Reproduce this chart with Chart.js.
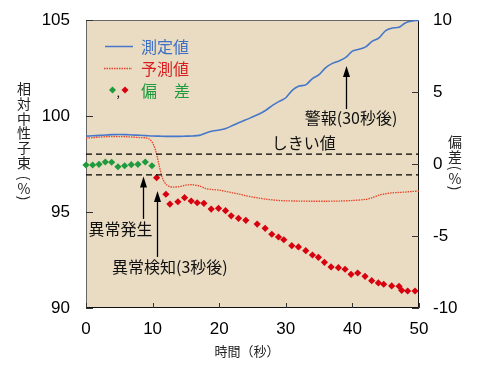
<!DOCTYPE html>
<html><head><meta charset="utf-8">
<script src="https://cdn.jsdelivr.net/npm/chart.js@4"></script>
<style>html,body{margin:0;padding:0;background:#fff;}#wrap{width:482px;height:369px;}</style>
</head><body><div id="wrap"><canvas id="c" width="482" height="369"></canvas></div>
<script>
// ---- data ----
const xTicks = [0, 10, 20, 30, 40, 50];
const yLeftTicks = [90, 95, 100, 105];
const yRightTicks = [-10, -5, 0, 5, 10];

const measuredTime = [0,1,2,3,4,5,6,7,8,9,10,11,12,13,14,15,16,17,18,19,20,21,22,23,24,25,26,27,28,29,30,31,32,33,34,35,36,37,38,39,40,41,42,43,44,45,46,47,48,49,50];
const measuredValue = [98.95,98.97,98.99,99.01,99.03,99.04,99.03,99.01,99.0,98.98,98.96,98.95,98.94,98.94,98.94,98.95,98.96,98.99,99.12,99.22,99.27,99.35,99.5,99.66,99.8,99.95,100.1,100.3,100.55,100.76,100.95,101.35,101.56,101.62,101.95,102.15,102.52,102.74,102.87,103.05,103.38,103.48,103.6,103.9,104.07,104.45,104.58,104.62,104.86,104.95,104.98];

const predictedTime = [0,1,2,3,4,5,6,7,8,9,9.5,10,10.5,11,11.5,12,12.5,13,14,15,16,17,18,19,20,21,22,23,24,25,26,27,28,29,30,32,34,36,38,40,42,43,44,45,46,47,48,49,50];
const predictedValue = [98.85,98.87,98.9,98.92,98.93,98.93,98.92,98.9,98.88,98.86,98.8,98.6,98.15,97.4,96.75,96.45,96.33,96.3,96.32,96.4,96.42,96.36,96.22,96.17,96.14,96.07,96.0,95.93,95.85,95.78,95.72,95.67,95.63,95.6,95.58,95.57,95.56,95.56,95.57,95.6,95.66,95.75,95.88,95.95,96.0,96.02,96.04,96.07,96.09];

const devNormalTime = [0,1,1.95,2.9,3.85,4.8,5.8,6.8,7.8,8.9,9.9];
const devNormalValue = [-0.07,-0.07,-0.02,0.14,0.12,-0.19,-0.12,-0.05,-0.02,0.14,-0.12];

const devAbnormalTime = [10.6,12.0,12.6,13.8,14.8,15.8,16.7,17.7,18.8,19.9,20.95,21.8,22.9,24.0,25.7,26.9,27.9,28.9,29.7,30.9,31.9,33.0,34.0,34.9,35.8,36.8,37.9,38.9,39.8,40.8,41.9,42.9,43.9,44.7,45.9,47.0,47.4,48.3,49.4];
const devAbnormalValue = [-0.95,-2.1,-2.78,-2.62,-2.34,-2.57,-2.69,-2.73,-3.13,-3.08,-3.24,-3.6,-3.77,-3.91,-4.17,-4.47,-4.88,-5.07,-5.26,-5.67,-5.76,-6.02,-6.32,-6.48,-6.83,-7.15,-7.2,-7.31,-7.66,-7.57,-7.8,-8.1,-8.26,-8.35,-8.47,-8.49,-8.77,-8.82,-8.82];

const thresholds = [0.68, -0.75];
const thresholdSpan = [0, 50];

// annotations (x in seconds, y in left-axis units)
const arrowNotes = [
  { x: 8.6, tail: 94.64, tip: 96.85 },
  { x: 10.7, tail: 92.66, tip: 96.09 },
  { x: 39.04, tail: 100.36, tip: 102.6 }
];
const textNotes = [
  { text: '異常発生', x: 5.18, y: 94.11, align: 'center' },
  { text: '異常検知(3秒後)', x: 12.6, y: 92.14, align: 'center' },
  { text: '警報(30秒後)', x: 39.8, y: 99.9, align: 'center' },
  { text: 'しきい値', x: 27.9, y: 98.6, align: 'left' }
];

// ---- colours ----
const BLUE = '#4677c9', REDLINE = '#e8442a', GREEN = '#1f9a3c', RED = '#d8000f', BG = '#e9dcc3';
const JP = '"Noto Sans CJK JP", "Noto Sans", sans-serif';

const zip = (xs, ys) => xs.map((x, i) => ({ x, y: ys[i] }));

function diamond(ctx, x, y, r, color) {
  ctx.beginPath();
  ctx.moveTo(x, y - r); ctx.lineTo(x + r, y); ctx.lineTo(x, y + r); ctx.lineTo(x - r, y); ctx.closePath();
  ctx.fillStyle = color; ctx.fill();
}

const overlay = {
  id: 'overlay',
  beforeDraw(chart) {
    const { ctx, chartArea: a } = chart;
    ctx.save();
    ctx.fillStyle = '#fff'; ctx.fillRect(0, 0, chart.width, chart.height);
    ctx.fillStyle = BG; ctx.fillRect(a.left, a.top, a.right - a.left, a.bottom - a.top);
    ctx.restore();
  },
  beforeDatasetsDraw(chart) {
    const { ctx, chartArea: a, scales } = chart;
    ctx.save();
    ctx.lineWidth = 1;
    ctx.strokeStyle = '#666';
    ctx.beginPath();
    ctx.moveTo(a.left + 0.5, a.bottom); ctx.lineTo(a.left + 0.5, a.top + 0.5); ctx.lineTo(a.right, a.top + 0.5);
    ctx.stroke();
    ctx.strokeStyle = '#111';
    ctx.beginPath();
    ctx.moveTo(a.right - 0.5, a.top); ctx.lineTo(a.right - 0.5, a.bottom - 0.5); ctx.lineTo(a.left, a.bottom - 0.5);
    ctx.stroke();
    ctx.strokeStyle = '#333';
    ctx.beginPath();
    yLeftTicks.forEach(v => { const p = Math.round(scales.y.getPixelForValue(v)) + 0.5; ctx.moveTo(a.left, p); ctx.lineTo(a.left + 7, p); });
    yRightTicks.forEach(v => { const p = Math.round(scales.y2.getPixelForValue(v)) + 0.5; ctx.moveTo(a.right - 7, p); ctx.lineTo(a.right, p); });
    xTicks.forEach(v => { const p = Math.round(scales.x.getPixelForValue(v)) + 0.5; ctx.moveTo(p, a.bottom); ctx.lineTo(p, a.bottom - 5); });
    ctx.stroke();
    ctx.restore();
  },
  afterDatasetsDraw(chart) {
    const { ctx, scales } = chart;
    const X = v => scales.x.getPixelForValue(v), Y = v => scales.y.getPixelForValue(v);
    ctx.save();
    // arrows
    ctx.strokeStyle = '#000'; ctx.fillStyle = '#000'; ctx.lineWidth = 1.3;
    arrowNotes.forEach(n => {
      const x = Math.round(X(n.x)) + 0.5, yt = Y(n.tail), yp = Y(n.tip);
      ctx.beginPath(); ctx.moveTo(x, yt); ctx.lineTo(x, yp + 8); ctx.stroke();
      ctx.beginPath(); ctx.moveTo(x, yp); ctx.lineTo(x - 3.5, yp + 11); ctx.lineTo(x + 3.5, yp + 11); ctx.closePath(); ctx.fill();
    });
    // notes
    ctx.font = '16px ' + JP; ctx.textBaseline = 'middle'; ctx.fillStyle = '#111';
    textNotes.forEach(n => { ctx.textAlign = n.align; ctx.fillText(n.text, X(n.x), Y(n.y)); });
    // legend
    ctx.textAlign = 'left';
    ctx.strokeStyle = BLUE; ctx.lineWidth = 1.5; ctx.setLineDash([]);
    ctx.beginPath(); ctx.moveTo(105, 46.5); ctx.lineTo(133, 46.5); ctx.stroke();
    ctx.fillStyle = '#3d6fc4'; ctx.fillText('測定値', 141, 47);
    ctx.strokeStyle = REDLINE; ctx.lineWidth = 1.3; ctx.setLineDash([1.5, 1]);
    ctx.beginPath(); ctx.moveTo(104, 68.5); ctx.lineTo(132, 68.5); ctx.stroke();
    ctx.setLineDash([]);
    ctx.fillStyle = '#d81e1e'; ctx.fillText('予測値', 141, 69);
    diamond(ctx, 112.5, 90, 3.5, GREEN);
    ctx.fillStyle = '#111'; ctx.font = '12px ' + JP; ctx.fillText(',', 116.5, 92);
    diamond(ctx, 125, 90, 3.5, RED);
    ctx.font = '16px ' + JP; ctx.fillStyle = GREEN;
    ctx.fillText('偏', 141, 91); ctx.fillText('差', 174, 91);
    // axis titles
    ctx.fillStyle = '#222'; ctx.textAlign = 'center'; ctx.font = '14px ' + JP;
    const stack = (chars, x, y0, step) => chars.forEach((c, i) => ctx.fillText(c, x, y0 + i * step));
    const parenStack = (x, yTop) => {
      ctx.save(); ctx.translate(x, yTop); ctx.rotate(Math.PI / 2); ctx.fillText('(', 0, 0); ctx.restore();
      ctx.fillText('%', x, yTop + 11);
      ctx.save(); ctx.translate(x, yTop + 20); ctx.rotate(Math.PI / 2); ctx.fillText(')', 0, 0); ctx.restore();
    };
    stack(['相', '対', '中', '性', '子', '束'], 24, 89, 14.7);
    parenStack(24, 178);
    stack(['偏', '差'], 455, 141.5, 15);
    parenStack(455, 168);
    ctx.font = '13px ' + JP;
    ctx.fillText('時間（秒）', 247, 351);
    ctx.restore();
  }
};

const tickFont = { family: '"Liberation Sans", Arial, sans-serif', size: 17 };

new Chart(document.getElementById('c'), {
  type: 'scatter',
  data: {
    datasets: [
      { label: 'thrHi', data: zip(thresholdSpan, thresholdSpan.map(() => thresholds[0])), yAxisID: 'y2', showLine: true, borderColor: '#000', borderWidth: 1.2, borderDash: [6, 4], pointRadius: 0 },
      { label: 'thrLo', data: zip(thresholdSpan, thresholdSpan.map(() => thresholds[1])), yAxisID: 'y2', showLine: true, borderColor: '#000', borderWidth: 1.2, borderDash: [6, 4], pointRadius: 0 },
      { label: '測定値', data: zip(measuredTime, measuredValue), yAxisID: 'y', showLine: true, borderColor: BLUE, borderWidth: 1.6, pointRadius: 0, tension: 0.3 },
      { label: '予測値', data: zip(predictedTime, predictedValue), yAxisID: 'y', showLine: true, borderColor: REDLINE, borderWidth: 1.3, borderDash: [1.5, 1], pointRadius: 0, tension: 0.3 },
      { label: '偏差(正常)', data: zip(devNormalTime, devNormalValue), yAxisID: 'y2', pointStyle: 'rectRot', pointRadius: 3.6, backgroundColor: GREEN, borderWidth: 0, clip: false },
      { label: '偏差(異常)', data: zip(devAbnormalTime, devAbnormalValue), yAxisID: 'y2', pointStyle: 'rectRot', pointRadius: 3.6, backgroundColor: RED, borderWidth: 0, clip: false }
    ]
  },
  options: {
    responsive: false, devicePixelRatio: 1, animation: false,
    layout: { padding: { top: 20, left: 0, right: 0, bottom: 0 } },
    plugins: { legend: { display: false }, tooltip: { enabled: false } },
    scales: {
      x: {
        type: 'linear', min: 0, max: 50,
        afterBuildTicks: s => { s.ticks = xTicks.map(v => ({ value: v })); },
        afterFit: s => { s.height = 61; },
        grid: { display: false }, border: { display: false },
        ticks: { font: tickFont, color: '#000', padding: 3, autoSkip: false, maxRotation: 0 }
      },
      y: {
        position: 'left', min: 90, max: 105,
        afterBuildTicks: s => { s.ticks = yLeftTicks.map(v => ({ value: v })); },
        afterFit: s => { s.width = 86; },
        grid: { display: false }, border: { display: false },
        ticks: { font: tickFont, color: '#000', padding: 8, autoSkip: false }
      },
      y2: {
        position: 'right', min: -10, max: 10,
        afterBuildTicks: s => { s.ticks = yRightTicks.map(v => ({ value: v })); },
        afterFit: s => { s.width = 63; },
        grid: { display: false }, border: { display: false },
        ticks: { font: tickFont, color: '#000', padding: 6, autoSkip: false }
      }
    }
  },
  plugins: [overlay]
});
</script>
</body></html>
